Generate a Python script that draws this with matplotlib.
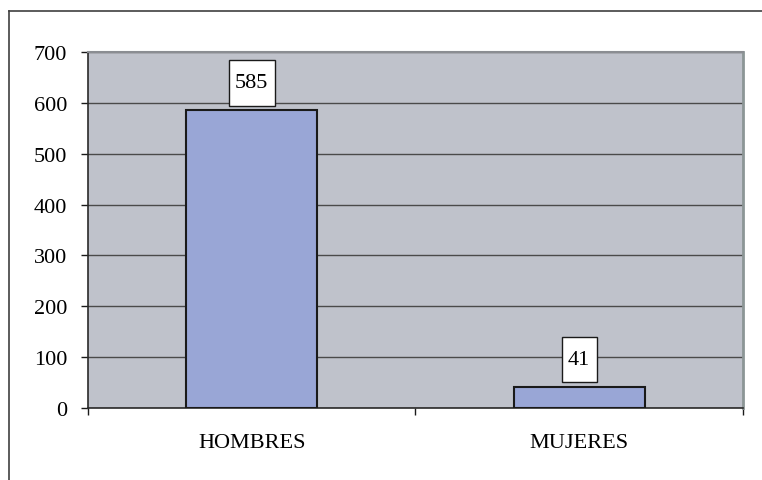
import matplotlib
matplotlib.use("Agg")
import matplotlib.pyplot as plt
from matplotlib.lines import Line2D
from matplotlib.path import Path


categories = ["HOMBRES", "MUJERES"]
values = [585, 41]
y_ticks = [0, 100, 200, 300, 400, 500, 600, 700]


plt.rcParams["font.family"] = ["Liberation Serif", "DejaVu Serif"]


def label_box(x0, y0, width, height, mutation_size):
    # white label box, taller than wide padding
    px = 0.28 * mutation_size
    py = 0.6 * mutation_size
    x0, y0 = x0 - px, y0 - py
    x1, y1 = x0 + width + 2 * px, y0 + height + 2 * py
    return Path([(x0, y0), (x1, y0), (x1, y1), (x0, y1), (x0, y0)],
                closed=True)


fig = plt.figure(figsize=(7.62, 4.81), dpi=100)
ax = fig.add_axes([88 / 762, 1 - 409 / 481, 655 / 762, 356 / 481])

ax.set_facecolor("#BFC2CB")

positions = list(range(len(categories)))

ax.bar(
    positions,
    values,
    width=0.4,
    color="#99A6D6",
    edgecolor="#1a1a1a",
    linewidth=1.5,
    zorder=3
)

# value labels in white boxes
for x, v in zip(positions, values):
    ax.annotate(
        str(v),
        xy=(x, v),
        xytext=(0, 20),
        textcoords="offset points",
        ha="center",
        va="center",
        fontsize=16,
        zorder=4,
        bbox=dict(boxstyle=label_box, facecolor="white",
                  edgecolor="#1a1a1a", linewidth=1)
    )

ax.set_xlim(-0.5, len(categories) - 0.5)
ax.set_ylim(0, 700)

ax.set_yticks(y_ticks)
ax.yaxis.grid(True, color="#4a4a4a", linewidth=1)
ax.set_axisbelow(True)

ax.set_xticks(positions)
ax.set_xticklabels(categories)
ax.set_xticks([-0.5, 0.5, 1.5], minor=True)

ax.tick_params(axis="y", direction="out", length=5, width=1,
               color="#1a1a1a", labelsize=16, pad=10)
ax.tick_params(axis="x", which="major", length=0, labelsize=16, pad=18)
ax.tick_params(axis="x", which="minor", direction="out", length=5,
               width=1, color="#1a1a1a")

for side in ["left", "bottom"]:
    ax.spines[side].set_color("#2a2a2a")
    ax.spines[side].set_linewidth(1.2)
ax.spines["top"].set_color("#8a8d92")
ax.spines["top"].set_linewidth(1.5)
ax.spines["right"].set_color("#8c9696")
ax.spines["right"].set_linewidth(2)

# outer frame (left and top edges only visible)
fig.add_artist(Line2D([9 / 762, 9 / 762], [0, 1 - 12 / 481],
                      transform=fig.transFigure, color="#404040", linewidth=1.2))
fig.add_artist(Line2D([9 / 762, 1], [1 - 12 / 481, 1 - 12 / 481],
                      transform=fig.transFigure, color="#404040", linewidth=1.2))

fig.savefig("out.png", dpi=100)
plt.close(fig)
